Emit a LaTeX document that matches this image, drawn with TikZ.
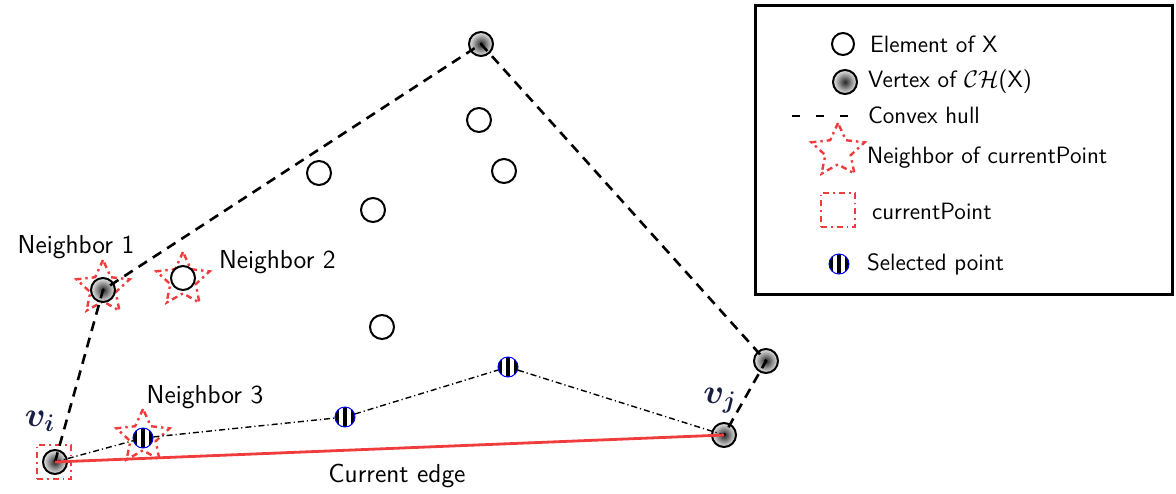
\documentclass[tikz,border=0pt]{standalone}
\usetikzlibrary{shapes.geometric,calc}
\definecolor{myred}{RGB}{240,60,60}
\definecolor{labblue}{RGB}{25,30,70}
\begin{document}
\begin{tikzpicture}[x=0.5pt,y=-0.5pt,font=\sffamily,
  elem/.style={circle,draw=black,line width=1pt,fill=white,minimum size=12pt,inner sep=0pt},
  vert/.style={circle,draw=black,line width=1pt,inner color=black!85,outer color=black!8,minimum size=12pt,inner sep=0pt},
  sel/.style={circle,draw=blue,line width=0.5pt,fill=white,minimum size=10pt,inner sep=0pt,
    path picture={
      \foreach \k in {0,2,4}{
        \fill[black] ($(path picture bounding box.south west)+(\k*2pt,0)$) rectangle ++(2pt,10pt);}
    }},
  nstar/.style={star,star points=5,star point ratio=2.1,draw=myred,line width=1.2pt,dash dot,minimum size=28pt,inner sep=0pt},
  cursq/.style={rectangle,draw=myred,line width=0.8pt,dash dot,minimum size=17pt,inner sep=0pt},
  hull/.style={line width=1.3pt,dash pattern=on 5pt off 3.5pt},
  chain/.style={line width=0.7pt,dash pattern=on 3pt off 1.5pt on 0.6pt off 1.5pt},
  redge/.style={myred,line width=1.4pt},
  lab/.style={font=\sffamily\fontsize{13}{15}\selectfont},
  leg/.style={font=\sffamily\fontsize{11.8}{14}\selectfont},
  vlab/.style={text=labblue,font=\LARGE\boldmath}]
\useasboundingbox (0,0) rectangle (1176,493);
% stars and square
\node[nstar] (s1) at (103,288) {};
\node[nstar] (s2) at (183,280) {};
\node[nstar] (s3) at (143,437) {};
\node[cursq] (sq) at (54,462) {};
% element points
\node[elem] (e1) at (479,120) {};
\node[elem] (e2) at (504,171) {};
\node[elem] (e3) at (319,173) {};
\node[elem] (e4) at (373,210) {};
\node[elem] (n2) at (183,278) {};
\node[elem] (e6) at (382,327) {};
% hull vertices
\node[vert] (vi) at (55,462) {};
\node[vert] (n1) at (103,290) {};
\node[vert] (top) at (481,44) {};
\node[vert] (rv) at (766,361) {};
\node[vert] (vj) at (724,435) {};
% selected points
\node[sel] (p1) at (143,438) {};
\node[sel] (p2) at (345,417) {};
\node[sel] (p3) at (508,367) {};
% connectors
\draw[hull] (vi.center) -- (n1.center) -- (top.center) -- (rv.center) -- (vj.center);
\draw[chain] (vi.center) -- (p1) -- (p2) -- (p3) -- (vj.center);
\draw[redge] (vi.center) -- (vj.center);
% labels
\node[lab] (l1) at (76,247) {Neighbor 1};
\node[lab,anchor=west] (l2) at (212,262) {Neighbor 2};
\node[lab] (l3) at (205,397) {Neighbor 3};
\node[lab] (l4) at (397,476) {Current edge};
\node[vlab] (lvi) at (40,421) {$v_i$};
\node[vlab] (lvj) at (720,401) {$v_j$};
% legend
\draw[line width=1.5pt] (755,5) rectangle (1172,294);
\node[elem,minimum size=11pt] (g1) at (843,44) {};
\node[leg,anchor=west] (t1) at (863,44) {Element of X};
\node[vert] (g2) at (845,82) {};
\node[leg,anchor=west] (t2) at (861,82) {Vertex of $\mathcal{CH}$(X)};
\coordinate (g3a) at (792,116);
\coordinate (g3b) at (856,116);
\draw[line width=1.3pt,dash pattern=on 4pt off 8pt] (g3a) -- (g3b);
\node[leg,anchor=west] (t3) at (861,115) {Convex hull};
\node[nstar] (g4) at (838,151) {};
\node[leg,anchor=west] (t4) at (860,158) {Neighbor of currentPoint};
\node[cursq] (g5) at (838,210) {};
\node[leg,anchor=west] (t5) at (865,211) {currentPoint};
\node[sel] (g6) at (839,264) {};
\node[leg,anchor=west] (t6) at (860,264) {Selected point};
\end{tikzpicture}
\end{document}
